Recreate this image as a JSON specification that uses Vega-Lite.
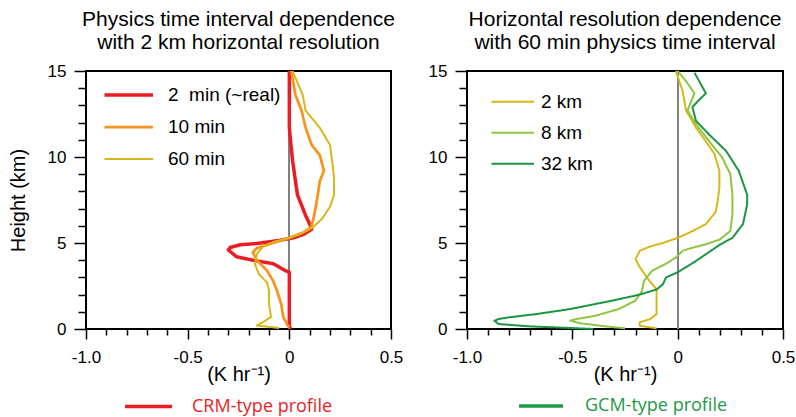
{
  "$schema": "https://vega.github.io/schema/vega-lite/v6.json",
  "padding": {"left": 7, "top": 8, "right": 2, "bottom": 2},
  "bounds": "flush",
  "spacing": 76,
  "background": "white",
  "datasets": {
    "interval": [
      {"s": "2\u00a0 min (~real)", "x": 0.005, "h": 0},
      {"s": "2\u00a0 min (~real)", "x": 0.0, "h": 0.2},
      {"s": "2\u00a0 min (~real)", "x": 0.0, "h": 1.0},
      {"s": "2\u00a0 min (~real)", "x": 0.0, "h": 2.0},
      {"s": "2\u00a0 min (~real)", "x": 0.0, "h": 3.0},
      {"s": "2\u00a0 min (~real)", "x": 0.0, "h": 3.3},
      {"s": "2\u00a0 min (~real)", "x": -0.02, "h": 3.4},
      {"s": "2\u00a0 min (~real)", "x": -0.08, "h": 3.8},
      {"s": "2\u00a0 min (~real)", "x": -0.18, "h": 4.0},
      {"s": "2\u00a0 min (~real)", "x": -0.26, "h": 4.2},
      {"s": "2\u00a0 min (~real)", "x": -0.30, "h": 4.6},
      {"s": "2\u00a0 min (~real)", "x": -0.29, "h": 4.75},
      {"s": "2\u00a0 min (~real)", "x": -0.24, "h": 4.9},
      {"s": "2\u00a0 min (~real)", "x": -0.16, "h": 4.97},
      {"s": "2\u00a0 min (~real)", "x": -0.05, "h": 5.15},
      {"s": "2\u00a0 min (~real)", "x": 0.02, "h": 5.3},
      {"s": "2\u00a0 min (~real)", "x": 0.07, "h": 5.5},
      {"s": "2\u00a0 min (~real)", "x": 0.11, "h": 5.8},
      {"s": "2\u00a0 min (~real)", "x": 0.10, "h": 6.1},
      {"s": "2\u00a0 min (~real)", "x": 0.08, "h": 6.6},
      {"s": "2\u00a0 min (~real)", "x": 0.06, "h": 7.2},
      {"s": "2\u00a0 min (~real)", "x": 0.04, "h": 7.8},
      {"s": "2\u00a0 min (~real)", "x": 0.03, "h": 8.6},
      {"s": "2\u00a0 min (~real)", "x": 0.016, "h": 9.8},
      {"s": "2\u00a0 min (~real)", "x": 0.008, "h": 10.7},
      {"s": "2\u00a0 min (~real)", "x": 0.0, "h": 11.7},
      {"s": "2\u00a0 min (~real)", "x": 0.0, "h": 13.0},
      {"s": "2\u00a0 min (~real)", "x": 0.0, "h": 15.0},
      {"s": "10 min", "x": 0.0, "h": 0.1},
      {"s": "10 min", "x": -0.008, "h": 0.2},
      {"s": "10 min", "x": -0.016, "h": 0.4},
      {"s": "10 min", "x": -0.03, "h": 0.7},
      {"s": "10 min", "x": -0.04, "h": 1.45},
      {"s": "10 min", "x": -0.06, "h": 2.2},
      {"s": "10 min", "x": -0.08, "h": 2.8},
      {"s": "10 min", "x": -0.11, "h": 3.4},
      {"s": "10 min", "x": -0.16, "h": 4.0},
      {"s": "10 min", "x": -0.18, "h": 4.45},
      {"s": "10 min", "x": -0.16, "h": 4.7},
      {"s": "10 min", "x": -0.08, "h": 5.0},
      {"s": "10 min", "x": 0.0, "h": 5.3},
      {"s": "10 min", "x": 0.066, "h": 5.6},
      {"s": "10 min", "x": 0.107, "h": 5.9},
      {"s": "10 min", "x": 0.12, "h": 6.5},
      {"s": "10 min", "x": 0.13, "h": 7.1},
      {"s": "10 min", "x": 0.14, "h": 7.8},
      {"s": "10 min", "x": 0.15, "h": 8.6},
      {"s": "10 min", "x": 0.17, "h": 9.2},
      {"s": "10 min", "x": 0.15, "h": 10.1},
      {"s": "10 min", "x": 0.11, "h": 10.7},
      {"s": "10 min", "x": 0.08, "h": 11.7},
      {"s": "10 min", "x": 0.06, "h": 12.7},
      {"s": "10 min", "x": 0.03, "h": 13.6},
      {"s": "10 min", "x": 0.01, "h": 15.0},
      {"s": "60 min", "x": -0.05, "h": 0.05},
      {"s": "60 min", "x": -0.08, "h": 0.1},
      {"s": "60 min", "x": -0.16, "h": 0.2},
      {"s": "60 min", "x": -0.13, "h": 0.4},
      {"s": "60 min", "x": -0.09, "h": 0.7},
      {"s": "60 min", "x": -0.10, "h": 1.45},
      {"s": "60 min", "x": -0.10, "h": 2.2},
      {"s": "60 min", "x": -0.11, "h": 2.7},
      {"s": "60 min", "x": -0.15, "h": 3.2},
      {"s": "60 min", "x": -0.17, "h": 3.8},
      {"s": "60 min", "x": -0.16, "h": 4.35},
      {"s": "60 min", "x": -0.13, "h": 4.8},
      {"s": "60 min", "x": -0.066, "h": 5.1},
      {"s": "60 min", "x": 0.0, "h": 5.3},
      {"s": "60 min", "x": 0.05, "h": 5.5},
      {"s": "60 min", "x": 0.115, "h": 5.9},
      {"s": "60 min", "x": 0.16, "h": 6.4},
      {"s": "60 min", "x": 0.20, "h": 7.1},
      {"s": "60 min", "x": 0.22, "h": 7.8},
      {"s": "60 min", "x": 0.22, "h": 8.8},
      {"s": "60 min", "x": 0.21, "h": 9.8},
      {"s": "60 min", "x": 0.20, "h": 10.7},
      {"s": "60 min", "x": 0.15, "h": 11.7},
      {"s": "60 min", "x": 0.08, "h": 12.7},
      {"s": "60 min", "x": 0.066, "h": 13.6},
      {"s": "60 min", "x": 0.016, "h": 15.0}
    ],
    "resolution": [
      {"s": "\u20072 km", "x": -0.10, "h": 0.04},
      {"s": "\u20072 km", "x": -0.18, "h": 0.19},
      {"s": "\u20072 km", "x": -0.18, "h": 0.39},
      {"s": "\u20072 km", "x": -0.13, "h": 0.58},
      {"s": "\u20072 km", "x": -0.10, "h": 0.87},
      {"s": "\u20072 km", "x": -0.10, "h": 1.65},
      {"s": "\u20072 km", "x": -0.10, "h": 2.3},
      {"s": "\u20072 km", "x": -0.14, "h": 2.9},
      {"s": "\u20072 km", "x": -0.18, "h": 3.6},
      {"s": "\u20072 km", "x": -0.20, "h": 4.06},
      {"s": "\u20072 km", "x": -0.18, "h": 4.55},
      {"s": "\u20072 km", "x": -0.13, "h": 4.8},
      {"s": "\u20072 km", "x": -0.07, "h": 5.0},
      {"s": "\u20072 km", "x": 0.0, "h": 5.3},
      {"s": "\u20072 km", "x": 0.055, "h": 5.6},
      {"s": "\u20072 km", "x": 0.134, "h": 6.1},
      {"s": "\u20072 km", "x": 0.18, "h": 6.8},
      {"s": "\u20072 km", "x": 0.19, "h": 7.45},
      {"s": "\u20072 km", "x": 0.198, "h": 8.2},
      {"s": "\u20072 km", "x": 0.198, "h": 9.2},
      {"s": "\u20072 km", "x": 0.174, "h": 10.2},
      {"s": "\u20072 km", "x": 0.134, "h": 10.9},
      {"s": "\u20072 km", "x": 0.087, "h": 11.7},
      {"s": "\u20072 km", "x": 0.04, "h": 12.7},
      {"s": "\u20072 km", "x": 0.024, "h": 13.8},
      {"s": "\u20072 km", "x": -0.008, "h": 15.0},
      {"s": "\u20078 km", "x": -0.25, "h": 0.04},
      {"s": "\u20078 km", "x": -0.34, "h": 0.15},
      {"s": "\u20078 km", "x": -0.46, "h": 0.33},
      {"s": "\u20078 km", "x": -0.51, "h": 0.48},
      {"s": "\u20078 km", "x": -0.48, "h": 0.58},
      {"s": "\u20078 km", "x": -0.39, "h": 0.77},
      {"s": "\u20078 km", "x": -0.28, "h": 1.16},
      {"s": "\u20078 km", "x": -0.20, "h": 1.65},
      {"s": "\u20078 km", "x": -0.17, "h": 2.2},
      {"s": "\u20078 km", "x": -0.16, "h": 2.8},
      {"s": "\u20078 km", "x": -0.12, "h": 3.4},
      {"s": "\u20078 km", "x": -0.055, "h": 3.8},
      {"s": "\u20078 km", "x": -0.008, "h": 4.16},
      {"s": "\u20078 km", "x": 0.024, "h": 4.55},
      {"s": "\u20078 km", "x": 0.063, "h": 4.7},
      {"s": "\u20078 km", "x": 0.127, "h": 4.9},
      {"s": "\u20078 km", "x": 0.20, "h": 5.2},
      {"s": "\u20078 km", "x": 0.25, "h": 5.7},
      {"s": "\u20078 km", "x": 0.26, "h": 6.7},
      {"s": "\u20078 km", "x": 0.26, "h": 7.8},
      {"s": "\u20078 km", "x": 0.25, "h": 9.0},
      {"s": "\u20078 km", "x": 0.21, "h": 10.0},
      {"s": "\u20078 km", "x": 0.15, "h": 10.9},
      {"s": "\u20078 km", "x": 0.087, "h": 11.9},
      {"s": "\u20078 km", "x": 0.047, "h": 12.7},
      {"s": "\u20078 km", "x": 0.063, "h": 13.2},
      {"s": "\u20078 km", "x": 0.08, "h": 13.7},
      {"s": "\u20078 km", "x": 0.04, "h": 14.4},
      {"s": "\u20078 km", "x": 0.0, "h": 15.0},
      {"s": "32 km", "x": -0.40, "h": 0.0},
      {"s": "32 km", "x": -0.51, "h": 0.06},
      {"s": "32 km", "x": -0.70, "h": 0.15},
      {"s": "32 km", "x": -0.85, "h": 0.29},
      {"s": "32 km", "x": -0.87, "h": 0.48},
      {"s": "32 km", "x": -0.85, "h": 0.58},
      {"s": "32 km", "x": -0.80, "h": 0.68},
      {"s": "32 km", "x": -0.67, "h": 0.87},
      {"s": "32 km", "x": -0.51, "h": 1.16},
      {"s": "32 km", "x": -0.31, "h": 1.65},
      {"s": "32 km", "x": -0.18, "h": 2.0},
      {"s": "32 km", "x": -0.10, "h": 2.3},
      {"s": "32 km", "x": -0.07, "h": 2.6},
      {"s": "32 km", "x": -0.055, "h": 3.0},
      {"s": "32 km", "x": 0.0, "h": 3.3},
      {"s": "32 km", "x": 0.04, "h": 3.6},
      {"s": "32 km", "x": 0.08, "h": 3.9},
      {"s": "32 km", "x": 0.134, "h": 4.35},
      {"s": "32 km", "x": 0.20, "h": 4.9},
      {"s": "32 km", "x": 0.26, "h": 5.3},
      {"s": "32 km", "x": 0.31, "h": 6.1},
      {"s": "32 km", "x": 0.33, "h": 7.25},
      {"s": "32 km", "x": 0.33, "h": 7.8},
      {"s": "32 km", "x": 0.29, "h": 9.2},
      {"s": "32 km", "x": 0.23, "h": 10.35},
      {"s": "32 km", "x": 0.15, "h": 11.3},
      {"s": "32 km", "x": 0.087, "h": 12.1},
      {"s": "32 km", "x": 0.07, "h": 12.9},
      {"s": "32 km", "x": 0.10, "h": 13.3},
      {"s": "32 km", "x": 0.134, "h": 13.7},
      {"s": "32 km", "x": 0.08, "h": 14.9}
    ]
  },
  "config": {
    "font": "Liberation Sans",
    "view": {"stroke": "black", "strokeWidth": 2},
    "axis": {
      "domain": false,
      "grid": false,
      "tickColor": "black",
      "tickWidth": 1.5,
      "labelColor": "black",
      "labelFont": "Liberation Sans",
      "labelFontSize": 17,
      "labelOverlap": false,
      "labelFlush": false,
      "titleColor": "black",
      "titleFontWeight": "normal",
      "titleFontSize": 20
    },
    "title": {
      "fontSize": 21,
      "fontWeight": "normal",
      "color": "black",
      "lineHeight": 23,
      "frame": "group",
      "anchor": "middle",
      "offset": 9
    },
    "line": {"strokeJoin": "round"}
  },
  "resolve": {
    "scale": {"color": "independent", "strokeWidth": "independent", "strokeDash": "independent"},
    "legend": {"color": "independent", "strokeWidth": "independent", "strokeDash": "independent"}
  },
  "hconcat": [
    {
      "width": 305,
      "height": 258,
      "title": {"text": ["Physics time interval dependence", "with 2 km horizontal resolution"]},
      "data": {"name": "interval"},
      "layer": [
        {
          "mark": {"type": "rule", "color": "#808080", "strokeWidth": 1},
          "encoding": {"x": {"datum": 0, "type": "quantitative"}}
        },
        {
          "mark": {"type": "line"},
          "encoding": {
            "x": {
              "field": "x", "type": "quantitative",
              "scale": {"domain": [-1, 0.5], "nice": false, "zero": false},
              "axis": {
                "title": "(K hr\u207b\u00b9)",
                "values": [-1, -0.9, -0.8, -0.7, -0.6, -0.5, -0.4, -0.3, -0.2, -0.1, 0, 0.1, 0.2, 0.3, 0.4, 0.5],
                "tickCount": 30,
                "labelExpr": "abs(datum.value) < 1e-9 ? '0' : (abs(round(datum.value * 10)) % 5 == 0 ? replace(format(datum.value, '.1f'), '\u2212', '-') : ' ')",
                "labelOverlap": false,
                "tickSize": {"condition": {"test": "abs(round(datum.value * 10)) % 5 == 0", "value": 10}, "value": 6},
                "labelPadding": 10,
                "titlePadding": -1
              }
            },
            "y": {
              "field": "h", "type": "quantitative",
              "scale": {"domain": [0, 15], "nice": false},
              "axis": {
                "title": "Height (km)",
                "titleFont": "Liberation Sans",
                "titleFontSize": 20,
                "titlePadding": 19,
                "values": [0, 1, 2, 3, 4, 5, 6, 7, 8, 9, 10, 11, 12, 13, 14, 15],
                "tickCount": 30,
                "labelExpr": "datum.value % 5 == 0 ? format(datum.value, 'd') : ' '",
                "labelOverlap": false,
                "tickSize": {"condition": {"test": "datum.value % 5 == 0", "value": 12}, "value": 8},
                "labelPadding": 8
              }
            },
            "order": {"field": "h"},
            "color": {
              "field": "s", "type": "nominal",
              "scale": {"domain": ["2\u00a0 min (~real)", "10 min", "60 min"], "range": ["#ec1c24", "#f7941d", "#d6b71c"]},
              "legend": {"title": null, "orient": "none", "legendX": 18.5, "legendY": 8, "symbolType": "M-1.163,0H1.163", "symbolSize": 1849, "clipHeight": 32, "rowPadding": 0, "labelFont": "Liberation Sans", "labelFontSize": 19, "labelColor": "black", "labelOffset": 16.5, "padding": 0}
            },
            "strokeWidth": {
              "field": "s", "type": "nominal",
              "scale": {"domain": ["2\u00a0 min (~real)", "10 min", "60 min"], "range": [3.5, 2, 2]},
              "legend": {"title": null, "orient": "none", "legendX": 18.5, "legendY": 8, "symbolType": "M-1.163,0H1.163", "symbolSize": 1849, "clipHeight": 32, "rowPadding": 0, "labelFont": "Liberation Sans", "labelFontSize": 19, "labelColor": "black", "labelOffset": 16.5, "padding": 0}
            },
            "strokeDash": {
              "datum": "CRM-type profile",
              "scale": {"range": [[1, 0]]},
              "legend": {
                "title": null, "orient": "none", "legendX": 37, "legendY": 310,
                "symbolType": "stroke", "symbolSize": 2209,
                "symbolStrokeColor": "#ec1c24", "symbolStrokeWidth": 3.5,
                "labelFont": "Open Sans", "labelFontSize": 18, "labelColor": "#ec1c24", "labelOffset": 18, "padding": 0
              }
            }
          }
        }
      ]
    },
    {
      "width": 316,
      "height": 258,
      "title": {"text": ["Horizontal resolution dependence", "with 60 min physics time interval"]},
      "data": {"name": "resolution"},
      "layer": [
        {
          "mark": {"type": "rule", "color": "#808080", "strokeWidth": 1},
          "encoding": {"x": {"datum": 0, "type": "quantitative"}}
        },
        {
          "mark": {"type": "line"},
          "encoding": {
            "x": {
              "field": "x", "type": "quantitative",
              "scale": {"domain": [-1, 0.5], "nice": false, "zero": false},
              "axis": {
                "title": "(K hr\u207b\u00b9)",
                "values": [-1, -0.9, -0.8, -0.7, -0.6, -0.5, -0.4, -0.3, -0.2, -0.1, 0, 0.1, 0.2, 0.3, 0.4, 0.5],
                "tickCount": 30,
                "labelExpr": "abs(datum.value) < 1e-9 ? '0' : (abs(round(datum.value * 10)) % 5 == 0 ? replace(format(datum.value, '.1f'), '\u2212', '-') : ' ')",
                "labelOverlap": false,
                "tickSize": {"condition": {"test": "abs(round(datum.value * 10)) % 5 == 0", "value": 10}, "value": 6},
                "labelPadding": 10,
                "titlePadding": -1
              }
            },
            "y": {
              "field": "h", "type": "quantitative",
              "scale": {"domain": [0, 15], "nice": false},
              "axis": {
                "title": null,
                "values": [0, 1, 2, 3, 4, 5, 6, 7, 8, 9, 10, 11, 12, 13, 14, 15],
                "tickCount": 30,
                "labelExpr": "datum.value % 5 == 0 ? format(datum.value, 'd') : ' '",
                "labelOverlap": false,
                "tickSize": {"condition": {"test": "datum.value % 5 == 0", "value": 12}, "value": 8},
                "labelPadding": 8
              }
            },
            "order": {"field": "h"},
            "color": {
              "field": "s", "type": "nominal",
              "scale": {"domain": ["\u20072 km", "\u20078 km", "32 km"], "range": ["#d6b71c", "#8dc63f", "#1a9641"]},
              "legend": {"title": null, "orient": "none", "legendX": 24.5, "legendY": 15.5, "symbolType": "M-1.075,0H1.075", "symbolSize": 1600, "clipHeight": 30.5, "rowPadding": 0, "labelFont": "Liberation Sans", "labelFontSize": 19, "labelColor": "black", "labelOffset": 7.5, "padding": 0}
            },
            "strokeWidth": {
              "field": "s", "type": "nominal",
              "scale": {"domain": ["\u20072 km", "\u20078 km", "32 km"], "range": [2, 2, 3.5]},
              "legend": {"title": null, "orient": "none", "legendX": 24.5, "legendY": 15.5, "symbolType": "M-1.075,0H1.075", "symbolSize": 1600, "clipHeight": 30.5, "rowPadding": 0, "labelFont": "Liberation Sans", "labelFontSize": 19, "labelColor": "black", "labelOffset": 7.5, "padding": 0}
            },
            "strokeDash": {
              "datum": "GCM-type profile",
              "scale": {"range": [[1, 0]]},
              "legend": {
                "title": null, "orient": "none", "legendX": 50, "legendY": 311,
                "symbolType": "stroke", "symbolSize": 1936,
                "symbolStrokeColor": "#1e9a46", "symbolStrokeWidth": 3.5,
                "labelFont": "Open Sans", "labelFontSize": 18, "labelColor": "#1e9a46", "labelOffset": 20, "padding": 0
              }
            }
          }
        }
      ]
    }
  ]
}
